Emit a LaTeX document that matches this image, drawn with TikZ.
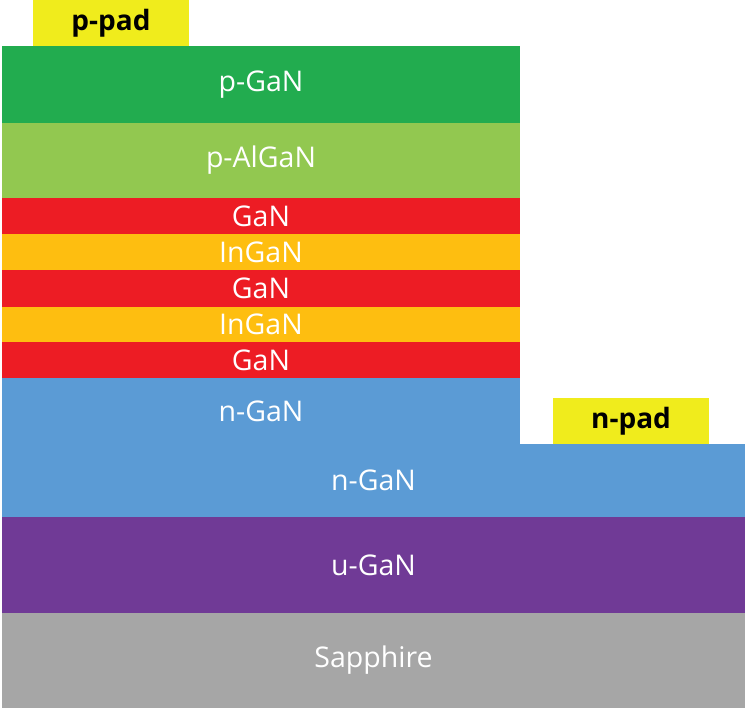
\documentclass[tikz,border=0pt]{standalone}
\usepackage{fontspec}
\setmainfont{Open Sans}
\usetikzlibrary{positioning}
\definecolor{padyellow}{RGB}{240,236,28}
\definecolor{pgreen}{RGB}{34,172,79}
\definecolor{algreen}{RGB}{146,200,80}
\definecolor{ganred}{RGB}{237,28,36}
\definecolor{inganorange}{RGB}{254,190,16}
\definecolor{nblue}{RGB}{91,155,213}
\definecolor{upurple}{RGB}{112,58,150}
\definecolor{sapgray}{RGB}{166,166,166}

\begin{document}
\begin{tikzpicture}[x=1pt,y=-1pt]
    % Define layer styles
    \tikzstyle{layer}=[anchor=north west, inner sep=0pt, outer sep=0pt, text=white, font=\fontsize{28.5}{32}\selectfont]
    \tikzstyle{pad}=[layer, text=black, fill=padyellow, font=\fontsize{28}{32}\selectfont\bfseries]

    \useasboundingbox (0,0) rectangle (746,710);

    % Top layers of the mesa
    \node[layer, fill=pgreen, minimum width=518pt, minimum height=77pt] (pGaN) at (2,46) {p-GaN};
    \node[layer, fill=algreen, minimum width=518pt, minimum height=75pt] (pAlGaN) at (2,123) {p-AlGaN};

    % Quantum wells
    \foreach \i/\top/\h/\col/\lbl in {1/198/36/ganred/GaN, 2/234/36/inganorange/InGaN, 3/270/37/ganred/GaN, 4/307/35/inganorange/InGaN, 5/342/36/ganred/GaN} {
        \node[layer, fill=\col, minimum width=518pt, minimum height=\h pt] (QW-\i) at (2,\top) {\lbl};
    }

    % n-GaN step
    \node[layer, fill=nblue, minimum width=518pt, minimum height=67pt] (nGaN-top) at (2,378) {n-GaN};
    \node[layer, fill=nblue, minimum width=743pt, minimum height=73pt] (nGaN-bot) at (2,444) {n-GaN};

    % Buffer and substrate
    \node[layer, fill=upurple, minimum width=743pt, minimum height=96pt] (uGaN) at (2,517) {u-GaN};
    \node[layer, fill=sapgray, minimum width=743pt, minimum height=95pt] (sapphire) at (2,613) {Sapphire};

    % Contact pads
    \node[pad, minimum width=156pt, minimum height=46pt] (ppad) at (33,0) {p-pad};
    \node[pad, minimum width=156pt, minimum height=46pt] (npad) at (553,398) {n-pad};
\end{tikzpicture}
\end{document}
